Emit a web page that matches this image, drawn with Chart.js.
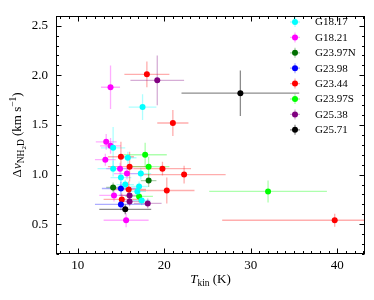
<!DOCTYPE html>
<html><head><meta charset="utf-8">
<script src="https://cdn.jsdelivr.net/npm/chart.js@4/dist/chart.umd.min.js"></script>
<style>html,body{margin:0;padding:0;background:#fff}#wrap{width:374px;height:300px;position:relative}</style>
</head><body><div id="wrap"><canvas id="c"></canvas></div>
<script>
// ---- data ----
const seriesNames = ['G18.17','G18.21','G23.97N','G23.98','G23.44','G23.97S','G25.38','G25.71'];
const seriesColors = ['#00ffff','#ff00ff','#007000','#0000ff','#ff0000','#00ff00','#800080','#000000'];

const g1817_x  = [17.5, 14.1, 15.8, 14.1, 17.3, 15.0, 15.5, 17.1, 16.9, 17.4];
const g1817_y  = [1.68, 1.27, 1.17, 1.06, 1.01, 0.97, 0.90, 0.88, 0.83, 0.74];
const g1817_xe = [1.6, 1.4, 1.0, 1.8, 1.2, 1.2, 1.0, 1.0, 1.0, 1.0];
const g1817_ye = [0.13, 0.21, 0.06, 0.08, 0.06, 0.06, 0.05, 0.05, 0.05, 0.05];

const g1821_x  = [13.8, 13.3, 13.8, 13.2, 14.9, 15.7, 14.2, 15.6];
const g1821_y  = [1.88, 1.33, 1.29, 1.15, 1.06, 1.01, 0.79, 0.54];
const g1821_xe = [1.1, 1.2, 1.2, 1.2, 1.6, 1.5, 1.7, 2.6];
const g1821_ye = [0.22, 0.08, 0.08, 0.06, 0.06, 0.06, 0.06, 0.07];

const g2397n_x  = [18.2, 14.1];
const g2397n_y  = [0.94, 0.87];
const g2397n_xe = [0.9, 0.8];
const g2397n_ye = [0.065, 0.05];

const g2398_x  = [15.0, 15.0];
const g2398_y  = [0.86, 0.70];
const g2398_xe = [2.2, 3.0];
const g2398_ye = [0.07, 0.06];

const g2344_x  = [18.0, 21.0, 15.0, 16.0, 19.8, 22.3, 15.9, 20.3, 15.1, 39.7];
const g2344_y  = [2.01, 1.52, 1.18, 1.08, 1.06, 1.00, 0.85, 0.84, 0.75, 0.54];
const g2344_xe = [2.6, 1.8, 1.5, 2.5, 3.3, 4.8, 2.0, 3.2, 2.1, 13.0];
const g2344_ye = [0.13, 0.13, 0.15, 0.15, 0.07, 0.09, 0.08, 0.13, 0.06, 0.065];

const g2397s_x  = [17.8, 18.2, 17.1, 32.0];
const g2397s_y  = [1.20, 1.08, 0.78, 0.83];
const g2397s_xe = [2.5, 2.4, 1.6, 6.8];
const g2397s_ye = [0.12, 0.10, 0.06, 0.11];

const g2538_x  = [19.2, 16.0, 16.0, 18.1];
const g2538_y  = [1.95, 0.79, 0.73, 0.71];
const g2538_xe = [3.1, 1.2, 1.2, 1.6];
const g2538_ye = [0.25, 0.05, 0.05, 0.05];

const g2571_x  = [28.8, 15.5];
const g2571_y  = [1.82, 0.65];
const g2571_xe = [6.8, 3.0];
const g2571_ye = [0.23, 0.05];

const xTicks = [10, 20, 30, 40];
const yTicks = [0.5, 1.0, 1.5, 2.0, 2.5];

// ---- build ----
const seriesX  = [g1817_x, g1821_x, g2397n_x, g2398_x, g2344_x, g2397s_x, g2538_x, g2571_x];
const seriesY  = [g1817_y, g1821_y, g2397n_y, g2398_y, g2344_y, g2397s_y, g2538_y, g2571_y];
const seriesXE = [g1817_xe, g1821_xe, g2397n_xe, g2398_xe, g2344_xe, g2397s_xe, g2538_xe, g2571_xe];
const seriesYE = [g1817_ye, g1821_ye, g2397n_ye, g2398_ye, g2344_ye, g2397s_ye, g2538_ye, g2571_ye];

function hexA(h, a){
  const r=parseInt(h.slice(1,3),16), g=parseInt(h.slice(3,5),16), b=parseInt(h.slice(5,7),16);
  return `rgba(${r},${g},${b},${a})`;
}
const errAlpha = 0.32;

const datasets = seriesNames.map((n,i)=>({
  label:n,
  data: seriesX[i].map((x,j)=>({x:x, y:seriesY[i][j], xe:seriesXE[i][j], ye:seriesYE[i][j]})),
  backgroundColor: seriesColors[i],
  borderWidth:0,
  pointRadius:3,
  pointHoverRadius:3,
  errColor: hexA(seriesColors[i], seriesColors[i]==='#000000'?0.45:errAlpha)
}));

const SERIF = '"Liberation Serif","DejaVu Serif",serif';

const errPlugin = {
  id:'err',
  beforeDatasetsDraw(chart){
    const {ctx, chartArea:a, scales:{x,y}} = chart;
    ctx.save();
    ctx.beginPath(); ctx.rect(a.left,a.top,a.right-a.left,a.bottom-a.top); ctx.clip();
    ctx.lineWidth = 1.3;
    chart.data.datasets.forEach(ds=>{
      ctx.strokeStyle = ds.errColor;
      ds.data.forEach(p=>{
        const px=x.getPixelForValue(p.x), py=y.getPixelForValue(p.y);
        ctx.beginPath();
        ctx.moveTo(x.getPixelForValue(p.x-p.xe),py); ctx.lineTo(x.getPixelForValue(p.x+p.xe),py);
        ctx.stroke();
        ctx.beginPath();
        ctx.moveTo(px,y.getPixelForValue(p.y-p.ye)); ctx.lineTo(px,y.getPixelForValue(p.y+p.ye));
        ctx.stroke();
      });
    });
    ctx.restore();
  }
};

const framePlugin = {
  id:'frame',
  afterDraw(chart){
    const {ctx, chartArea:a, scales:{x,y}} = chart;
    ctx.save();
    ctx.strokeStyle='#000'; ctx.lineWidth=1;
    const L=Math.round(a.left)+0.5, R=Math.round(a.right)-0.5, T=Math.round(a.top)+0.5, B=Math.round(a.bottom)-0.5;
    ctx.strokeRect(L,T,R-L,B-T);
    ctx.beginPath();
    for(let v=8; v<=43; v++){
      const px=Math.round(x.getPixelForValue(v))+0.5;
      const len = (v%10===0)?5:2.5;
      ctx.moveTo(px,B); ctx.lineTo(px,B-len);
      ctx.moveTo(px,T); ctx.lineTo(px,T+len);
    }
    for(let k=2; k<=26; k++){
      const v=k/10;
      const py=Math.round(y.getPixelForValue(v))+0.5;
      const len = (k%5===0)?5:2.5;
      ctx.moveTo(L,py); ctx.lineTo(L+len,py);
      ctx.moveTo(R,py); ctx.lineTo(R-len,py);
    }
    ctx.stroke();

    // axis titles
    ctx.fillStyle='#000';
    ctx.textBaseline='alphabetic';
    // x title: T_kin (K)
    const parts = [
      {t:'T', f:'italic 13px '+SERIF, dy:0},
      {t:'kin', f:'9.5px '+SERIF, dy:3},
      {t:' (K)', f:'13px '+SERIF, dy:0}
    ];
    drawParts(ctx, parts, (a.left+a.right)/2, 283);
    // y title rotated
    ctx.save();
    ctx.translate(21, (a.top+a.bottom)/2);
    ctx.rotate(-Math.PI/2);
    const yparts = [
      {t:'Δ', f:'13px '+SERIF, dy:0},
      {t:'v', f:'italic 13px '+SERIF, dy:0},
      {t:'NH', f:'9.5px '+SERIF, dy:3},
      {t:'2', f:'7px '+SERIF, dy:5},
      {t:'D', f:'9.5px '+SERIF, dy:3},
      {t:' (km s', f:'13px '+SERIF, dy:0},
      {t:'−1', f:'9.5px '+SERIF, dy:-5},
      {t:')', f:'13px '+SERIF, dy:0}
    ];
    drawParts(ctx, yparts, 0, 0);
    ctx.restore();

    // legend
    const lx=295, ly0=22, dyl=15.4;
    seriesNames.forEach((n,i)=>{
      const yy=ly0+i*dyl;
      ctx.strokeStyle=datasets[i].errColor; ctx.lineWidth=1.3;
      ctx.beginPath();
      ctx.moveTo(lx-5,yy); ctx.lineTo(lx+5,yy);
      ctx.moveTo(lx,yy-5); ctx.lineTo(lx,yy+5);
      ctx.stroke();
      ctx.fillStyle=seriesColors[i];
      ctx.beginPath(); ctx.arc(lx,yy,3,0,Math.PI*2); ctx.fill();
      ctx.fillStyle='#000';
      ctx.font='11px '+SERIF;
      ctx.textAlign='left'; ctx.textBaseline='middle';
      ctx.fillText(n, 315, yy+0.5);
    });
    ctx.restore();
  }
};

function drawParts(ctx, parts, cx, by){
  let w=0;
  parts.forEach(p=>{ctx.font=p.f; p.w=ctx.measureText(p.t).width; w+=p.w;});
  let x=cx-w/2;
  ctx.textAlign='left';
  parts.forEach(p=>{ctx.font=p.f; ctx.fillText(p.t, x, by+p.dy); x+=p.w;});
}

new Chart(document.getElementById('c'), {
  type:'scatter',
  data:{datasets},
  options:{
    responsive:true, maintainAspectRatio:false, animation:false,
    layout:{padding:{top:9,right:9,left:0,bottom:0}},
    plugins:{legend:{display:false}, tooltip:{enabled:false}},
    scales:{
      x:{
        type:'linear', min:7.5, max:43.2,
        afterBuildTicks:s=>{s.ticks = xTicks.map(v=>({value:v}));},
        afterFit:s=>{s.height=46;},
        grid:{display:false, drawTicks:false}, border:{display:false},
        ticks:{padding:4, color:'#000', font:{family:SERIF, size:13}, maxRotation:0, autoSkip:false, callback:v=>String(v)}
      },
      y:{
        type:'linear', min:0.2, max:2.6,
        afterBuildTicks:s=>{s.ticks = yTicks.map(v=>({value:v}));},
        afterFit:s=>{s.width=56;},
        grid:{display:false, drawTicks:false}, border:{display:false},
        ticks:{padding:8, color:'#000', font:{family:SERIF, size:13}, autoSkip:false, callback:v=>Number(v).toFixed(1)}
      }
    }
  },
  plugins:[errPlugin, framePlugin]
});
</script>
</body></html>
